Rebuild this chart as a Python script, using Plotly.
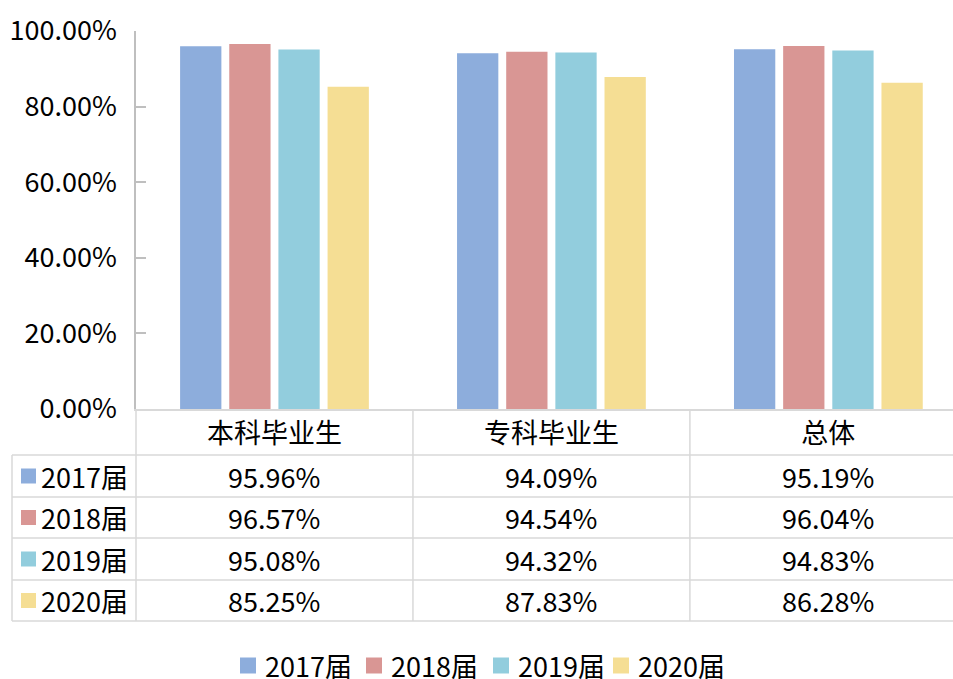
import plotly.graph_objects as go

categories = ["本科毕业生", "专科毕业生", "总体"]
series_names = ["2017届", "2018届", "2019届", "2020届"]
values_2017 = [95.96, 94.09, 95.19]
values_2018 = [96.57, 94.54, 96.04]
values_2019 = [95.08, 94.32, 94.83]
values_2020 = [85.25, 87.83, 86.28]
y_ticks = [0, 20, 40, 60, 80, 100]

series_values = [values_2017, values_2018, values_2019, values_2020]
colors = ["#8DADDC", "#D99694", "#92CDDD", "#F5DE94"]

W, H = 953, 679
ML, MR, MT, MB = 136, 0, 31, 270
PW = W - ML - MR
PH = H - MT - MB
FONT = "Noto Sans CJK SC, Noto Sans, sans-serif"
FS = 27
LINE = "#D9D9D9"

def px_x(px):
    return (px - ML) / PW

def px_y(py):
    return (H - MB - py) / PH

fig = go.Figure()
for name, vals, col in zip(series_names, series_values, colors):
    fig.add_trace(go.Bar(x=categories, y=vals, name=name, marker_color=col,
                         marker_line_width=0, showlegend=False))

shapes = []
row_lines = [455, 497, 538, 580, 621]
for py in row_lines:
    shapes.append(dict(type="line", xref="paper", yref="paper",
                       x0=px_x(12), x1=1, y0=px_y(py), y1=px_y(py),
                       line=dict(color=LINE, width=1.5)))
shapes.append(dict(type="line", xref="paper", yref="paper",
                   x0=px_x(12), x1=px_x(12), y0=px_y(455), y1=px_y(621),
                   line=dict(color=LINE, width=1.5)))
shapes.append(dict(type="line", xref="paper", yref="paper",
                   x0=0, x1=0, y0=0, y1=px_y(621),
                   line=dict(color=LINE, width=1.5)))
for xb in [0.5, 1.5]:
    shapes.append(dict(type="line", xref="x", yref="paper",
                       x0=xb, x1=xb, y0=0, y1=px_y(621),
                       line=dict(color=LINE, width=1.5)))

annotations = []
row_centers = [476, 517.5, 559, 600.5]
for name, vals, col, rc in zip(series_names, series_values, colors, row_centers):
    shapes.append(dict(type="rect", xref="paper", yref="paper",
                       x0=px_x(21), x1=px_x(36), y0=px_y(rc + 7.5), y1=px_y(rc - 7.5),
                       fillcolor=col, line=dict(width=0)))
    annotations.append(dict(text=name, xref="paper", yref="paper",
                            x=px_x(39), y=px_y(rc), xanchor="left", yanchor="middle",
                            showarrow=False, font=dict(size=FS, color="black", family=FONT)))
    for cat, v in zip(categories, vals):
        annotations.append(dict(text=f"{v:.2f}%", xref="x", yref="paper",
                                x=cat, y=px_y(rc), xanchor="center", yanchor="middle",
                                showarrow=False, font=dict(size=FS, color="black", family=FONT)))

# bottom legend
legend_sq_x = [240, 366, 493, 613]
legend_cy = 665.5
for name, col, lx in zip(series_names, colors, legend_sq_x):
    shapes.append(dict(type="rect", xref="paper", yref="paper",
                       x0=px_x(lx), x1=px_x(lx + 16), y0=px_y(legend_cy + 8), y1=px_y(legend_cy - 8),
                       fillcolor=col, line=dict(width=0)))
    annotations.append(dict(text=name, xref="paper", yref="paper",
                            x=px_x(lx + 23), y=px_y(legend_cy), xanchor="left", yanchor="middle",
                            showarrow=False, font=dict(size=FS, color="black", family=FONT)))

fig.update_layout(
    width=W, height=H,
    margin=dict(l=ML, r=MR, t=MT, b=MB, autoexpand=False),
    paper_bgcolor="white", plot_bgcolor="white",
    barmode="group", bargap=0.29, bargroupgap=0.16,
    font=dict(family=FONT, size=FS, color="black"),
    showlegend=False,
    shapes=shapes, annotations=annotations,
)
fig.update_xaxes(range=[-0.5, 2.45], showline=True, linecolor=LINE, linewidth=1.5,
                 ticks="", showgrid=False, zeroline=False, automargin=False,
                 tickfont=dict(size=FS, family=FONT, color="black"))
fig.update_yaxes(range=[0, 100], tickvals=y_ticks,
                 ticktext=[f"{v:.2f}%" for v in y_ticks],
                 showline=True, linecolor="#BFBFBF", linewidth=1.5,
                 ticks="inside", ticklen=10, tickcolor="#BFBFBF", tickwidth=1.5,
                 showgrid=False, zeroline=False, ticklabelstandoff=12, automargin=False,
                 tickfont=dict(size=FS, family=FONT, color="black"))

fig.write_html("out.html", config={"displayModeBar": False},
               post_script="document.body.style.margin='0';document.body.style.overflow='hidden';")
